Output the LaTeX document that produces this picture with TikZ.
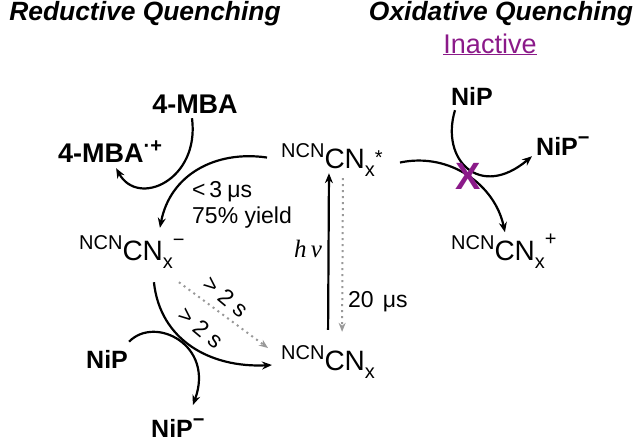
\documentclass[tikz,border=0pt]{standalone}
\usepackage{fontspec}
\setmainfont{Liberation Sans}
\newfontfamily\hvfont{Liberation Serif}
\usetikzlibrary{arrows.meta}
\definecolor{inactive}{HTML}{8B1A89}
\definecolor{slowgray}{HTML}{999999}
\newcommand{\smallfnt}{\fontsize{20}{20}\selectfont}
\newcommand{\cnx}[2][14pt]{\raisebox{11pt}{\smallfnt NCN}CN\raisebox{-8pt}{\smallfnt x}\raisebox{#1}{\smallfnt #2}}

\begin{document}
\begin{tikzpicture}[x=1pt, y=-1pt,
    title/.style={font=\fontsize{26.4}{26}\selectfont\bfseries\itshape, inner sep=0pt, anchor=base},
    species/.style={font=\fontsize{25}{25}\selectfont\bfseries, inner sep=1pt},
    mbastyle/.style={species, font=\fontsize{27}{27}\selectfont\bfseries},
    cn/.style={font=\fontsize{28}{28}\selectfont, inner sep=1pt, anchor=base west},
    lbl/.style={font=\fontsize{23}{26}\selectfont, inner sep=0pt},
    rxn/.style={-{Stealth[length=10pt,width=8pt]}, line width=2.2pt},
    slow/.style={-{Stealth[length=9pt,width=7pt]}, line width=2pt, slowgray, dash pattern=on 2pt off 4pt}
  ]
  \useasboundingbox (0,0) rectangle (643,442);

  % headings
  \node[title] (redq) at (145,20) {Reductive Quenching};
  \node[title] (oxq) at (501,20) {Oxidative Quenching};
  \node[font=\fontsize{27}{27}\selectfont, text=inactive, inner sep=0pt, anchor=base] (inact) at (490,53) {\underline{Inactive}};

  % species
  \node[mbastyle, anchor=base] (mba) at (195,113) {4-MBA};
  \node[mbastyle, anchor=base west] (mbarad) at (57,162) {4-MBA\raisebox{10pt}{\smallfnt ·+}};
  \node[cn] (cnstar) at (280,168) {\cnx[4pt]{*}};
  \node[cn] (cnred) at (78,260) {\cnx{−}};
  \node[cn] (cnground) at (280,370) {\cnx{}};
  \node[cn] (cnox) at (450,260) {\cnx[15pt]{+}};
  \node[species, anchor=base] (nipox) at (472,105) {NiP};
  \node[species, anchor=base west] (nipoxred) at (535,155) {NiP\raisebox{11pt}{\smallfnt −}};
  \node[species, anchor=base west] (nipred) at (85,368) {NiP};
  \node[species, anchor=base west] (nipredred) at (150,437) {NiP\raisebox{11pt}{\smallfnt −}};

  % rates
  \node[lbl, anchor=base west] (fast) at (192,197) {<\,3\hspace{5pt}μs};
  \node[lbl, anchor=base west] (fastyield) at (192,223) {75\% yield};
  \node[font=\fontsize{25}{25}\selectfont\hvfont\itshape, inner sep=0pt] (light) at (308,249) {h\,ν};
  \node[lbl, anchor=base west] (relax) at (348,307) {20\hspace{9pt}μs};
  \node[lbl, rotate=-40] (slowa) at (226,297) {> 2 s};
  \node[lbl, rotate=-40] (slowb) at (201,328) {> 2 s};

  % reductive quenching
  \draw[rxn] ([xshift=-3pt,yshift=-4pt]mba.south) .. controls (200,180) and (138,208) .. ([xshift=6pt,yshift=-5pt]mbarad.south);
  \draw[rxn] ([xshift=-13pt,yshift=2pt]cnstar.west) .. controls (215,150) and (170,175) .. ([xshift=28pt,yshift=6pt]cnred.north);
  \draw[rxn] ([xshift=22pt,yshift=-13pt]cnred.south) .. controls (160,340) and (210,368) .. ([xshift=-8pt,yshift=-3.5pt]cnground.west);
  \draw[rxn] ([yshift=7pt]nipred.north east) .. controls (155,315) and (215,345) .. ([xshift=15pt,yshift=12pt]nipredred.north);
  \draw[slow] ([xshift=47pt,yshift=-13pt]cnred.south) -- ([xshift=-12pt,yshift=13.5pt]cnground.west);

  % excitation and decay
  \draw[rxn] ([xshift=0pt,yshift=14pt]cnground.north) -- ([xshift=-3pt,yshift=4pt]cnstar.south);
  \draw[slow] ([xshift=11pt,yshift=-1pt]cnstar.south) -- ([xshift=14pt,yshift=12pt]cnground.north);

  % oxidative quenching
  \draw[rxn] ([xshift=16pt,yshift=-3pt]cnstar.east) .. controls (450,152) and (495,185) .. ([xshift=1pt]cnox.north);
  \draw[rxn] ([xshift=-17pt,yshift=-4pt]nipox.south) .. controls (440,160) and (480,200) .. ([xshift=-3pt]nipoxred.south west);
  \node[font=\fontsize{38}{38}\selectfont\bfseries, text=inactive, inner sep=0pt] (block) at (468,176) {X};
\end{tikzpicture}
\end{document}
